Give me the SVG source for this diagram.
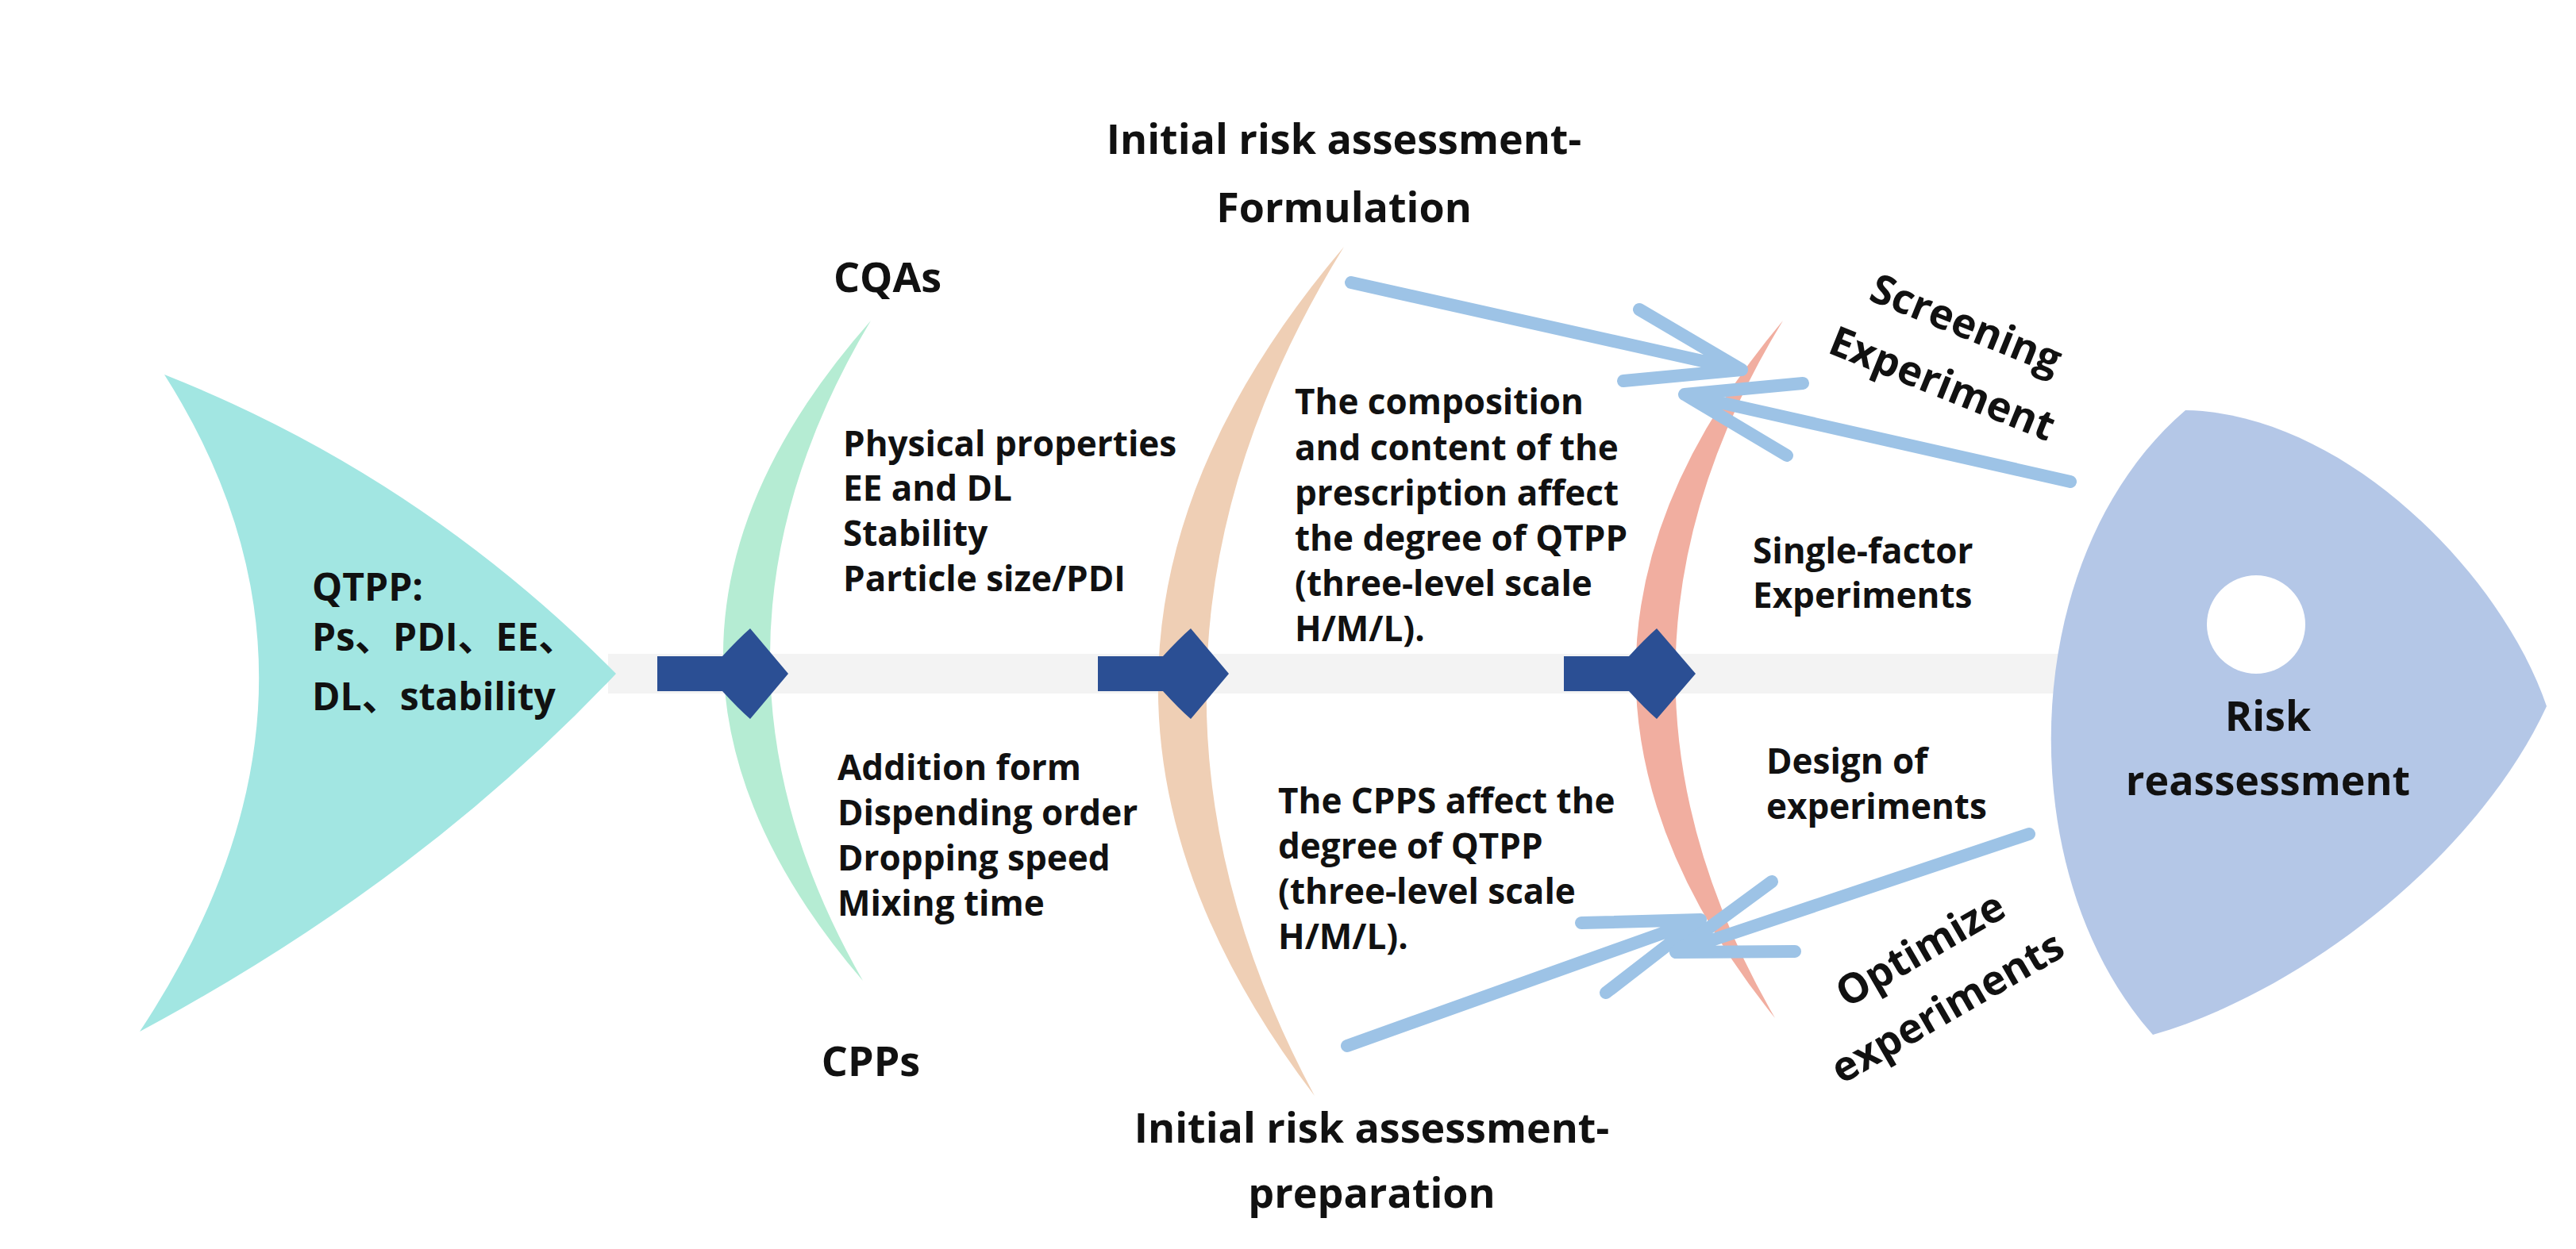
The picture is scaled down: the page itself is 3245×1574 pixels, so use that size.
<svg xmlns="http://www.w3.org/2000/svg" width="3245" height="1574" viewBox="0 0 3245 1574">
<style>
text{font-family:"Open Sans","Noto Sans","Liberation Sans","Noto Sans CJK SC",sans-serif;font-weight:bold;fill:#111}
.t{font-size:44px}
.h{font-size:52px}
.q{font-size:48px}
.lb{fill:none;stroke:#9dc3e6;stroke-width:16;stroke-linecap:round;stroke-linejoin:round}
.da{fill:#2b4f94}
</style>
<rect width="3245" height="1574" fill="#fff"/>
<rect x="766" y="824" width="1830" height="50" fill="#f3f3f3"/>
<g id="tail"><path d="M207,472 Q530,600 776,849 Q530,1110 176,1300 Q460,870 207,472 Z" fill="#a2e6e2"/>
<text class="q" x="393" y="757">QTPP:</text>
<text class="q" x="393" y="820">Ps、PDI、EE、</text>
<text class="q" x="393" y="895">DL、stability</text></g>
<g id="head"><path d="M2753,517 C2950,520 3150,720 3208,890 C3120,1080 2900,1250 2712,1304 C2530,1100 2540,700 2753,517 Z" fill="#b4c7e7"/>
<circle cx="2842" cy="787" r="62" fill="#fff"/>
<text class="h" x="2857" y="921" text-anchor="middle">Risk</text>
<text class="h" x="2857" y="1002" text-anchor="middle">reassessment</text></g>
<g id="cqa"><path d="M1097,404 Q730,820 1087,1236 Q848,820 1097,404 Z" fill="#b5ecd3"/>
<text class="h" x="1118" y="368" text-anchor="middle">CQAs</text>
<text class="h" x="1097" y="1356" text-anchor="middle">CPPs</text>
<text class="t" x="1062" y="575">Physical properties</text>
<text class="t" x="1062" y="631">EE and DL</text>
<text class="t" x="1062" y="688">Stability</text>
<text class="t" x="1062" y="745">Particle size/PDI</text>
<text class="t" x="1055" y="983">Addition form</text>
<text class="t" x="1055" y="1040">Dispending order</text>
<text class="t" x="1055" y="1097">Dropping speed</text>
<text class="t" x="1055" y="1154">Mixing time</text></g>
<g id="initial"><path d="M1693,311 Q1244,840 1656,1381 Q1366,840 1693,311 Z" fill="#efcfb5"/>
<text class="h" x="1693" y="194" text-anchor="middle">Initial risk assessment-</text>
<text class="h" x="1693" y="280" text-anchor="middle">Formulation</text>
<text class="h" x="1728" y="1440" text-anchor="middle">Initial risk assessment-</text>
<text class="h" x="1728" y="1522" text-anchor="middle">preparation</text>
<text class="t" x="1631" y="522">The composition</text>
<text class="t" x="1631" y="580">and content of the</text>
<text class="t" x="1631" y="637">prescription affect</text>
<text class="t" x="1631" y="694">the degree of QTPP</text>
<text class="t" x="1631" y="751">(three-level scale</text>
<text class="t" x="1631" y="808">H/M/L).</text>
<text class="t" x="1610" y="1025">The CPPS affect the</text>
<text class="t" x="1610" y="1082">degree of QTPP</text>
<text class="t" x="1610" y="1139">(three-level scale</text>
<text class="t" x="1610" y="1196">H/M/L).</text></g>
<g id="experiments"><path d="M2246,404 Q1880,840 2236,1283 Q1980,840 2246,404 Z" fill="#f1aea0"/>
<text class="t" x="2208" y="710">Single-factor</text>
<text class="t" x="2208" y="766">Experiments</text>
<text class="t" x="2225" y="975">Design of</text>
<text class="t" x="2225" y="1032">experiments</text>
<text class="h" transform="translate(2470,425) rotate(22)" text-anchor="middle">Screening</text>
<text class="h" transform="translate(2440,500) rotate(22)" text-anchor="middle">Experiment</text>
<text class="h" transform="translate(2428,1212) rotate(-30)" text-anchor="middle">Optimize</text>
<text class="h" transform="translate(2462,1285) rotate(-30)" text-anchor="middle">experiments</text></g>
<g id="connectors">
<path class="da" d="M828,827 H910 Q930,805 945,792 L993,849 L945,906 Q930,893 910,871 H828 Z"/>
<path class="da" d="M1383,827 H1465 Q1485,805 1500,792 L1548,849 L1500,906 Q1485,893 1465,871 H1383 Z"/>
<path class="da" d="M1970,827 H2052 Q2072,805 2087,792 L2136,849 L2087,906 Q2072,893 2052,871 H1970 Z"/>
<path class="lb" d="M1702,356 L2194,466 M2045,480 L2194,466 L2065,390"/>
<path class="lb" d="M2608,607 L2122,497 M2271,483 L2122,497 L2251,574"/>
<path class="lb" d="M1697,1318 L2142,1159 M2023,1251 L2142,1159 L1992,1163"/>
<path class="lb" d="M2556,1051 L2111,1200 M2261,1199 L2111,1200 L2232,1111"/>
</g>
</svg>
